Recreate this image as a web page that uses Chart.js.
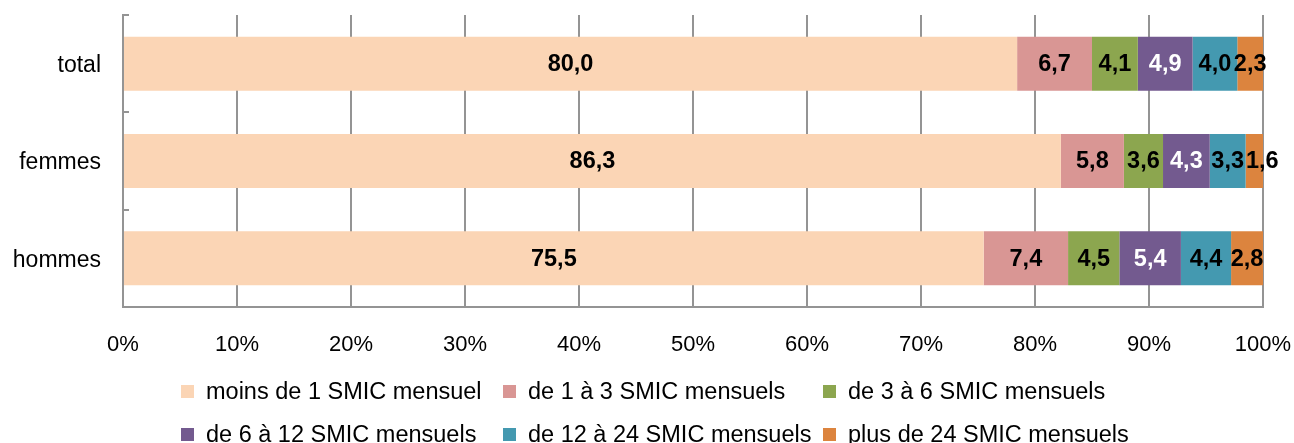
<!DOCTYPE html>
<html lang="fr">
<head>
<meta charset="utf-8">
<title>Répartition par tranche de SMIC</title>
<script src="https://cdn.jsdelivr.net/npm/chart.js@4/dist/chart.umd.min.js"></script>
<style>
  html, body { margin: 0; padding: 0; background: #fff; }
  #wrap { position: relative; width: 1294px; height: 443px; }
  #chart { position: absolute; left: 0; top: 0; }
  #legend {
    position: absolute; left: 181px; top: 370px;
    display: grid; grid-template-columns: 322px 320px auto;
    font-family: "Liberation Sans", Arial, sans-serif; font-size: 23.5px; color: #000;
  }
  .item { display: flex; align-items: center; height: 43px; white-space: nowrap; }
  .box { width: 13px; height: 13px; margin-right: 12px; flex: none; }
</style>
</head>
<body>
<div id="wrap">
  <canvas id="chart" width="1294" height="443"></canvas>
  <div id="legend"></div>
</div>
<script>
const categories = ['total', 'femmes', 'hommes'];
const seriesNames = [
  'moins de 1 SMIC mensuel',
  'de 1 à 3 SMIC mensuels',
  'de 3 à 6 SMIC mensuels',
  'de 6 à 12 SMIC mensuels',
  'de 12 à 24 SMIC mensuels',
  'plus de 24 SMIC mensuels'
];
const moins1 = [80.0, 86.3, 75.5];
const de1a3 = [6.7, 5.8, 7.4];
const de3a6 = [4.1, 3.6, 4.5];
const de6a12 = [4.9, 4.3, 5.4];
const de12a24 = [4.0, 3.3, 4.4];
const plus24 = [2.3, 1.6, 2.8];
const xTicks = ['0%', '10%', '20%', '30%', '40%', '50%', '60%', '70%', '80%', '90%', '100%'];

const seriesValues = [moins1, de1a3, de3a6, de6a12, de12a24, plus24];
const colors = ['#FBD5B5', '#D99694', '#8CA64F', '#735A8F', '#4499B0', '#DC843E'];
const labelColors = ['#000', '#000', '#000', '#fff', '#000', '#000'];

// 100% stacked: each row is scaled to its own total
const rowTotals = categories.map((c, i) => seriesValues.reduce((s, arr) => s + arr[i], 0));

const datasets = seriesNames.map((name, k) => ({
  label: name,
  data: seriesValues[k].map((v, i) => v / rowTotals[i] * 100),
  raw: seriesValues[k],
  backgroundColor: colors[k],
  borderWidth: 0,
  categoryPercentage: 1,
  barPercentage: 0.555
}));

const FONT = '"Liberation Sans", Arial, sans-serif';
const GRID = '#949494';

// value labels centered on each segment, nudged right if they would overlap
const valueLabels = {
  id: 'valueLabels',
  afterDatasetsDraw(chart) {
    const ctx = chart.ctx;
    ctx.save();
    ctx.font = 'bold 23.5px ' + FONT;
    ctx.textAlign = 'center';
    ctx.textBaseline = 'middle';
    const lastRight = categories.map(() => -Infinity);
    chart.data.datasets.forEach((ds, k) => {
      chart.getDatasetMeta(k).data.forEach((el, i) => {
        const txt = ds.raw[i].toFixed(1).replace('.', ',');
        const w = ctx.measureText(txt).width;
        let cx = (el.x + el.base) / 2;
        if (cx - w / 2 < lastRight[i] + 2) cx = lastRight[i] + 2 + w / 2;
        lastRight[i] = cx + w / 2;
        ctx.fillStyle = labelColors[k];
        ctx.fillText(txt, cx, el.y + 1);
      });
    });
    ctx.restore();
  }
};

// small tick marks on the category axis, pointing into the plot
const catTicks = {
  id: 'catTicks',
  afterDraw(chart) {
    const y = chart.scales.y;
    const ctx = chart.ctx;
    const n = categories.length;
    ctx.save();
    ctx.strokeStyle = GRID;
    ctx.lineWidth = 2;
    ctx.beginPath();
    for (let i = 0; i < n; i++) {
      const py = Math.round(y.top + i * (y.height / n));
      ctx.moveTo(y.right, py);
      ctx.lineTo(y.right + 6, py);
    }
    ctx.stroke();
    ctx.restore();
  }
};

new Chart(document.getElementById('chart'), {
  type: 'bar',
  data: { labels: categories, datasets: datasets },
  plugins: [valueLabels, catTicks],
  options: {
    indexAxis: 'y',
    responsive: false,
    animation: false,
    layout: { padding: { left: 0, right: 31, top: 15, bottom: 76 } },
    plugins: { legend: { display: false }, tooltip: { enabled: false } },
    scales: {
      x: {
        stacked: true,
        min: 0,
        max: 100,
        ticks: {
          stepSize: 10,
          padding: 25,
          color: '#000',
          font: { family: FONT, size: 22 },
          callback: (v, i) => xTicks[i]
        },
        grid: { color: GRID, lineWidth: 2, drawTicks: false },
        border: { color: GRID, width: 2 },
        afterFit: (s) => { s.height = 60; s.paddingLeft = 0; s.paddingRight = 0; }
      },
      y: {
        stacked: true,
        ticks: { padding: 22, labelOffset: 2, color: '#000', font: { family: FONT, size: 23 } },
        grid: { display: false, drawTicks: false },
        border: { display: true, color: GRID, width: 2 },
        afterFit: (s) => { s.width = 123; s.paddingTop = 0; s.paddingBottom = 0; }
      }
    }
  }
});

// legend laid out in three columns like the original
const legend = document.getElementById('legend');
seriesNames.forEach((name, k) => {
  const item = document.createElement('div');
  item.className = 'item';
  item.innerHTML = '<span class="box" style="background:' + colors[k] + '"></span>' + name;
  legend.appendChild(item);
});
</script>
</body>
</html>
